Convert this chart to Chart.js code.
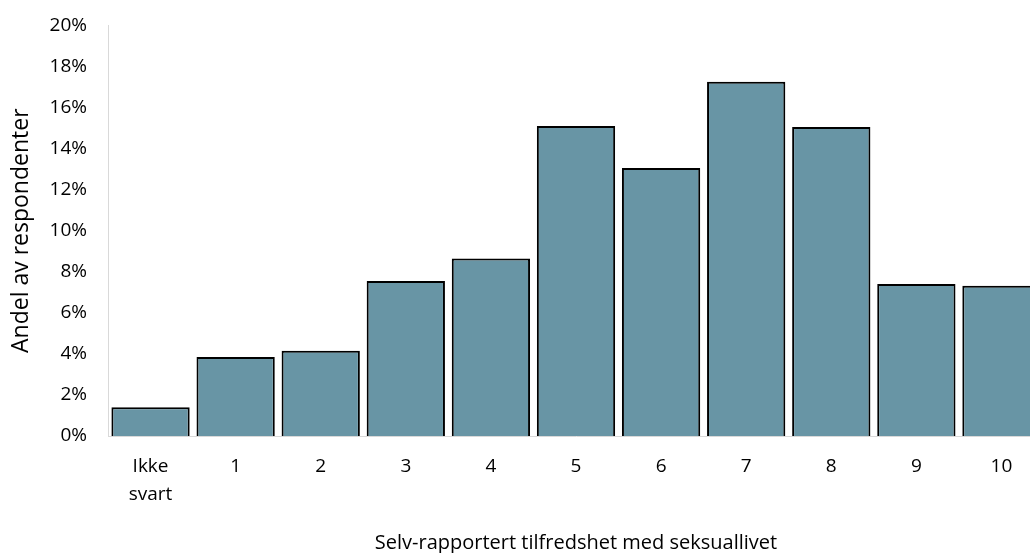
<!DOCTYPE html>
<html>
<head>
<meta charset="utf-8">
<script src="https://cdn.jsdelivr.net/npm/chart.js@4/dist/chart.umd.min.js"></script>
<style>
html,body{margin:0;padding:0;background:#fff;overflow:hidden;}
#wrap{position:absolute;left:0;top:-7px;width:1060px;height:560px;}
</style>
</head>
<body>
<div id="wrap"><canvas id="c" width="1060" height="560"></canvas></div>
<script>
const categories = [['Ikke','svart'],'1','2','3','4','5','6','7','8','9','10'];
const shares = [0.014, 0.0385, 0.0415, 0.0755, 0.0865, 0.151, 0.1305, 0.1725, 0.1505, 0.074, 0.0732];
const yTicks = [0,0.02,0.04,0.06,0.08,0.10,0.12,0.14,0.16,0.18,0.20];
const yTitle = 'Andel av respondenter';
const xTitle = 'Selv-rapportert tilfredshet med seksuallivet';

const fontFam = '"Open Sans", "Liberation Sans", sans-serif';
new Chart(document.getElementById('c'), {
  type: 'bar',
  data: {
    labels: categories,
    datasets: [{
      data: shares,
      backgroundColor: '#6895a5',
      borderColor: '#000000',
      borderWidth: 2,
      barPercentage: 0.92,
      categoryPercentage: 1.0
    }]
  },
  options: {
    responsive: false,
    animation: false,
    layout: { padding: { top: 18, right: 16, bottom: 0, left: 0 } },
    plugins: { legend: { display: false }, tooltip: { enabled: false } },
    scales: {
      x: {
        afterFit: (s) => { s.height = 117; },
        grid: { display: false, drawTicks: false },
        border: { display: true, color: '#d9d9d9', width: 1 },
        ticks: { color: '#000', font: { family: fontFam, size: 19, lineHeight: 1.45 }, padding: 17, maxRotation: 0, autoSkip: false },
        title: { display: true, text: xTitle, color: '#000', font: { family: fontFam, size: 20, lineHeight: 1.0 }, padding: { top: 0, bottom: 0 } }
      },
      y: {
        min: 0, max: 0.2,
        afterFit: (s) => { s.width = 108; },
        afterBuildTicks: (s) => { s.ticks = yTicks.map(v => ({ value: v })); },
        grid: { display: false, drawTicks: false },
        border: { display: true, color: '#d9d9d9', width: 1 },
        ticks: { color: '#000', font: { family: fontFam, size: 19 }, padding: 21,
                 callback: (v) => Math.round(v * 100) + '%' },
        title: { display: true, text: yTitle, color: '#000', font: { family: fontFam, size: 23, lineHeight: 1.2 }, padding: { top: 8, bottom: 0 } }
      }
    }
  }
});
</script>
</body>
</html>
